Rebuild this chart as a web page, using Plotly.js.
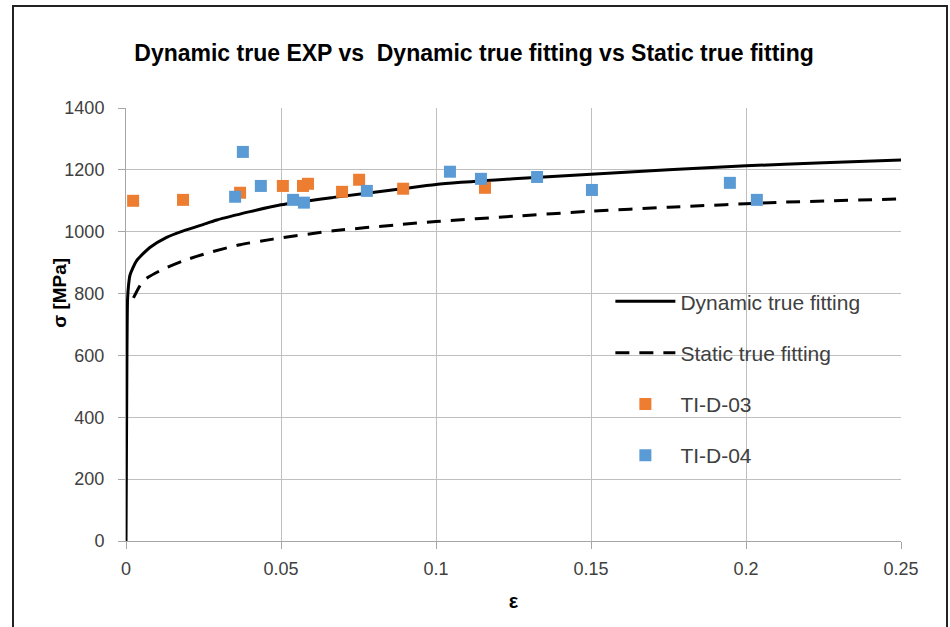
<!DOCTYPE html>
<html>
<head>
<meta charset="utf-8">
<script src="https://cdn.plot.ly/plotly-3.0.1.min.js"></script>
<style>
  body { margin: 0; background: #fff; }
  #wrap { position: relative; width: 950px; height: 627px; overflow: hidden; }
  #chart { width: 950px; height: 627px; }
  #frame { position: absolute; left: 12px; top: 5px; width: 932px; height: 640px; border: 2px solid #222; pointer-events: none; }
</style>
</head>
<body>
<div id="wrap"><div id="chart"></div><div id="frame"></div></div>
<script>
// Dynamic true fitting curve
const dynStrain = [0, 0.0003, 0.0005, 0.0008, 0.0013, 0.0034, 0.0077, 0.0131, 0.0185, 0.026, 0.0293, 0.04, 0.05, 0.067, 0.0884, 0.1, 0.125, 0.15, 0.175, 0.2, 0.225, 0.25];
const dynStress = [0, 600, 780, 825, 860, 906, 949, 982, 1003, 1027, 1038, 1065, 1087, 1111, 1138, 1153, 1171, 1186, 1200, 1213, 1223, 1232];

// Static true fitting curve
const statStrain = [0.0024, 0.0056, 0.011, 0.0185, 0.027, 0.0368, 0.0474, 0.0669, 0.0884, 0.1, 0.125, 0.1497, 0.175, 0.211, 0.25];
const statStress = [786, 842, 874, 906, 933, 958, 976, 1003, 1023, 1033, 1050, 1066, 1079, 1095, 1106];

// TI-D-03 experimental points
const d03Strain = [0.0023, 0.0184, 0.0368, 0.0506, 0.0571, 0.0587, 0.0697, 0.0752, 0.0894, 0.1158];
const d03Stress = [1100, 1103, 1126, 1148, 1148, 1155, 1129, 1168, 1139, 1142];

// TI-D-04 experimental points
const d04Strain = [0.0352, 0.0377, 0.0435, 0.0539, 0.0574, 0.0777, 0.1045, 0.1145, 0.1326, 0.1503, 0.1948, 0.2035];
const d04Stress = [1113, 1258, 1148, 1103, 1094, 1132, 1194, 1171, 1177, 1135, 1158, 1103];

const xTicks = [0, 0.05, 0.1, 0.15, 0.2, 0.25];
const xTickText = ['0', '0.05', '0.1', '0.15', '0.2', '0.25'];
const yTicks = [0, 200, 400, 600, 800, 1000, 1200, 1400];

const FONT = 'Liberation Sans, Arial, sans-serif';

const traces = [
  { x: dynStrain, y: dynStress, mode: 'lines', name: 'Dynamic true fitting', legendgroup: 'a',
    line: { color: '#000000', width: 3, shape: 'spline', smoothing: 0.6 } },
  { x: statStrain, y: statStress, mode: 'lines', name: 'Static true fitting', legendgroup: 'b',
    line: { color: '#000000', width: 3, dash: '14px,10px', shape: 'spline', smoothing: 0.6 } },
  { x: d03Strain, y: d03Stress, mode: 'markers', name: 'TI-D-03', legendgroup: 'c',
    marker: { symbol: 'square', size: 12, color: '#ED7D31' } },
  { x: d04Strain, y: d04Stress, mode: 'markers', name: 'TI-D-04', legendgroup: 'd',
    marker: { symbol: 'square', size: 12, color: '#5B9BD5' } }
];

const layout = {
  width: 950, height: 627,
  margin: { l: 126, r: 49, t: 108, b: 86 },
  paper_bgcolor: '#ffffff', plot_bgcolor: '#ffffff',
  font: { family: FONT, color: '#404040', size: 18 },
  title: { text: 'Dynamic true EXP vs\u00a0 Dynamic true fitting vs Static true fitting',
    font: { family: FONT, size: 23, color: '#000000', weight: 'bold' },
    x: 0.499, xanchor: 'center', y: 0.915, yanchor: 'middle' },
  xaxis: {
    range: [0, 0.25], tickvals: xTicks, ticktext: xTickText,
    showgrid: true, gridcolor: '#bfbfbf', gridwidth: 1,
    zeroline: false, showline: true, linecolor: '#a6a6a6', linewidth: 1,
    ticks: 'outside', ticklen: 7, tickcolor: '#a6a6a6', ticklabelstandoff: 4,
    tickfont: { family: FONT, size: 18, color: '#404040' },
    title: { text: 'ε', font: { family: FONT, size: 20, color: '#000000', weight: 'bold' }, standoff: 16 }
  },
  yaxis: {
    range: [0, 1400], tickvals: yTicks,
    showgrid: true, gridcolor: '#bfbfbf', gridwidth: 1,
    zeroline: false, showline: true, linecolor: '#a6a6a6', linewidth: 1,
    ticks: 'outside', ticklen: 7, tickcolor: '#a6a6a6', ticklabelstandoff: 10,
    tickfont: { family: FONT, size: 18, color: '#404040' }
  },
  annotations: [{
    text: 'σ [MPa]', xref: 'paper', yref: 'paper', x: -0.0852, y: 0.573,
    xanchor: 'center', yanchor: 'middle', textangle: -90, showarrow: false,
    font: { family: FONT, size: 19, color: '#000000', weight: 'bold' }
  }],
  showlegend: true,
  legend: {
    x: 0.625, xanchor: 'left', y: 0.600, yanchor: 'top',
    bgcolor: 'rgba(255,255,255,0)', borderwidth: 0,
    font: { family: FONT, size: 21, color: '#404040' },
    traceorder: 'grouped', tracegroupgap: 21, itemwidth: 60
  }
};

Plotly.newPlot('chart', traces, layout, { displayModeBar: false, staticPlot: true });
</script>
</body>
</html>
